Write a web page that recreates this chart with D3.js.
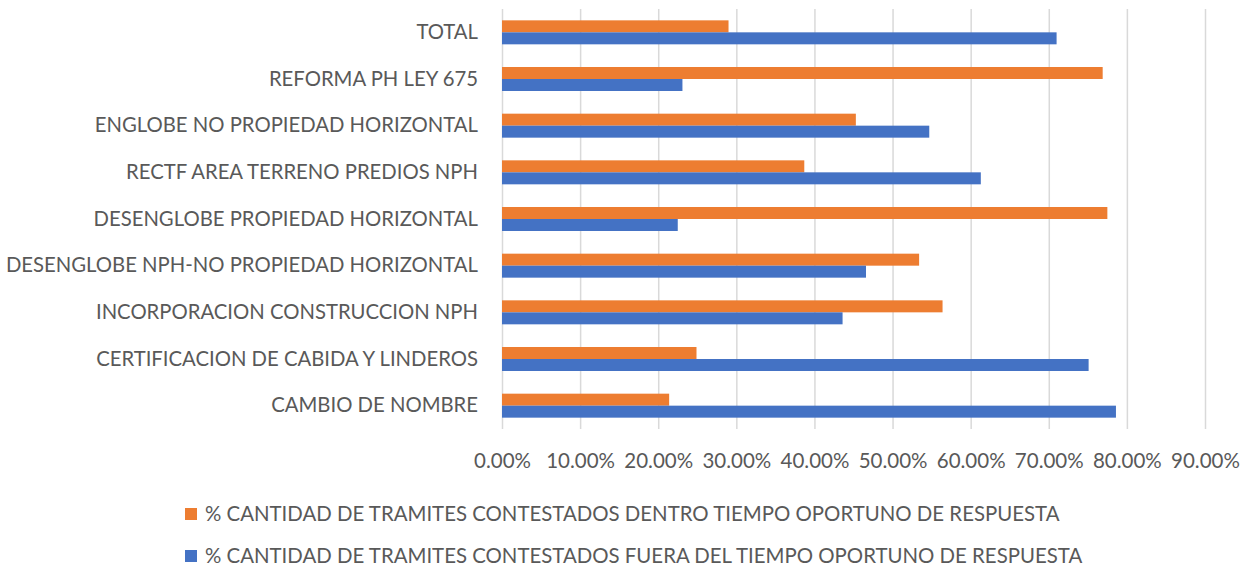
<!DOCTYPE html>
<html>
<head>
<meta charset="utf-8">
<script src="https://cdn.jsdelivr.net/npm/d3@7"></script>
<style>
  html, body { margin: 0; padding: 0; background: #fff; }
  svg text { font-family: Lato, "Open Sans", sans-serif; fill: #595959; }
</style>
</head>
<body>
<svg id="chart" width="1242" height="567"></svg>
<script>
// categories, top to bottom as shown
const categories = [
  "TOTAL",
  "REFORMA PH LEY 675",
  "ENGLOBE NO PROPIEDAD HORIZONTAL",
  "RECTF AREA TERRENO PREDIOS NPH",
  "DESENGLOBE PROPIEDAD HORIZONTAL",
  "DESENGLOBE NPH-NO PROPIEDAD HORIZONTAL",
  "INCORPORACION CONSTRUCCION NPH",
  "CERTIFICACION DE CABIDA Y LINDEROS",
  "CAMBIO DE NOMBRE"
];

// % within time (orange) and out of time (blue)
const dentro = [29.0, 76.9, 45.3, 38.7, 77.5, 53.4, 56.4, 24.9, 21.4];
const fuera  = [71.0, 23.1, 54.7, 61.3, 22.5, 46.6, 43.6, 75.1, 78.6];

const seriesNames = [
  "% CANTIDAD DE TRAMITES CONTESTADOS DENTRO TIEMPO OPORTUNO DE RESPUESTA",
  "% CANTIDAD DE TRAMITES CONTESTADOS FUERA DEL TIEMPO OPORTUNO DE RESPUESTA"
];
const seriesColors = ["#ED7D31", "#4472C4"];

const tickValues = [0, 10, 20, 30, 40, 50, 60, 70, 80, 90];

const margin = { top: 9, right: 37, bottom: 138, left: 502 };
const width = 1242, height = 567;
const innerW = width - margin.left - margin.right;
const innerH = height - margin.top - margin.bottom;

const svg = d3.select("#chart");
const g = svg.append("g")
  .attr("transform", `translate(${margin.left},${margin.top})`);

const x = d3.scaleLinear().domain([0, 90]).range([0, innerW]);
const y = d3.scaleBand().domain(categories).range([0, innerH])
  .paddingInner(0.486).paddingOuter(0.243);
const ySub = d3.scaleBand().domain([0, 1]).range([0, y.bandwidth()]);

// gridlines + tick labels
const xAxis = g.append("g")
  .attr("transform", `translate(0,${innerH})`)
  .call(d3.axisBottom(x)
    .tickValues(tickValues)
    .tickSize(-innerH)
    .tickPadding(24)
    .tickFormat(d => d.toFixed(2) + "%"));
xAxis.select(".domain").remove();
xAxis.selectAll("line").attr("stroke", "#D9D9D9").attr("stroke-width", 1.5);
xAxis.selectAll("text").style("font-size", "20.5px").attr("fill", "#595959");

// category labels
const yAxis = g.append("g")
  .call(d3.axisLeft(y).tickSize(0).tickPadding(24));
yAxis.select(".domain").remove();
yAxis.selectAll("text").style("font-size", "20.3px").attr("fill", "#595959");

// bars
const series = [dentro, fuera];
series.forEach((vals, si) => {
  g.append("g")
    .selectAll("rect")
    .data(vals)
    .join("rect")
    .attr("x", x(0))
    .attr("y", (d, i) => y(categories[i]) + ySub(si))
    .attr("width", d => x(d) - x(0))
    .attr("height", ySub.bandwidth())
    .attr("fill", seriesColors[si]);
});

// legend
const legend = svg.append("g");
seriesNames.forEach((name, i) => {
  const row = legend.append("g")
    .attr("transform", `translate(185,${514 + i * 42})`);
  row.append("rect")
    .attr("x", 0).attr("y", -6)
    .attr("width", 12).attr("height", 12)
    .attr("fill", seriesColors[i]);
  row.append("text")
    .attr("x", 20).attr("y", 0)
    .attr("dy", "0.35em")
    .style("font-size", "20.4px")
    .text(name);
});
</script>
</body>
</html>
